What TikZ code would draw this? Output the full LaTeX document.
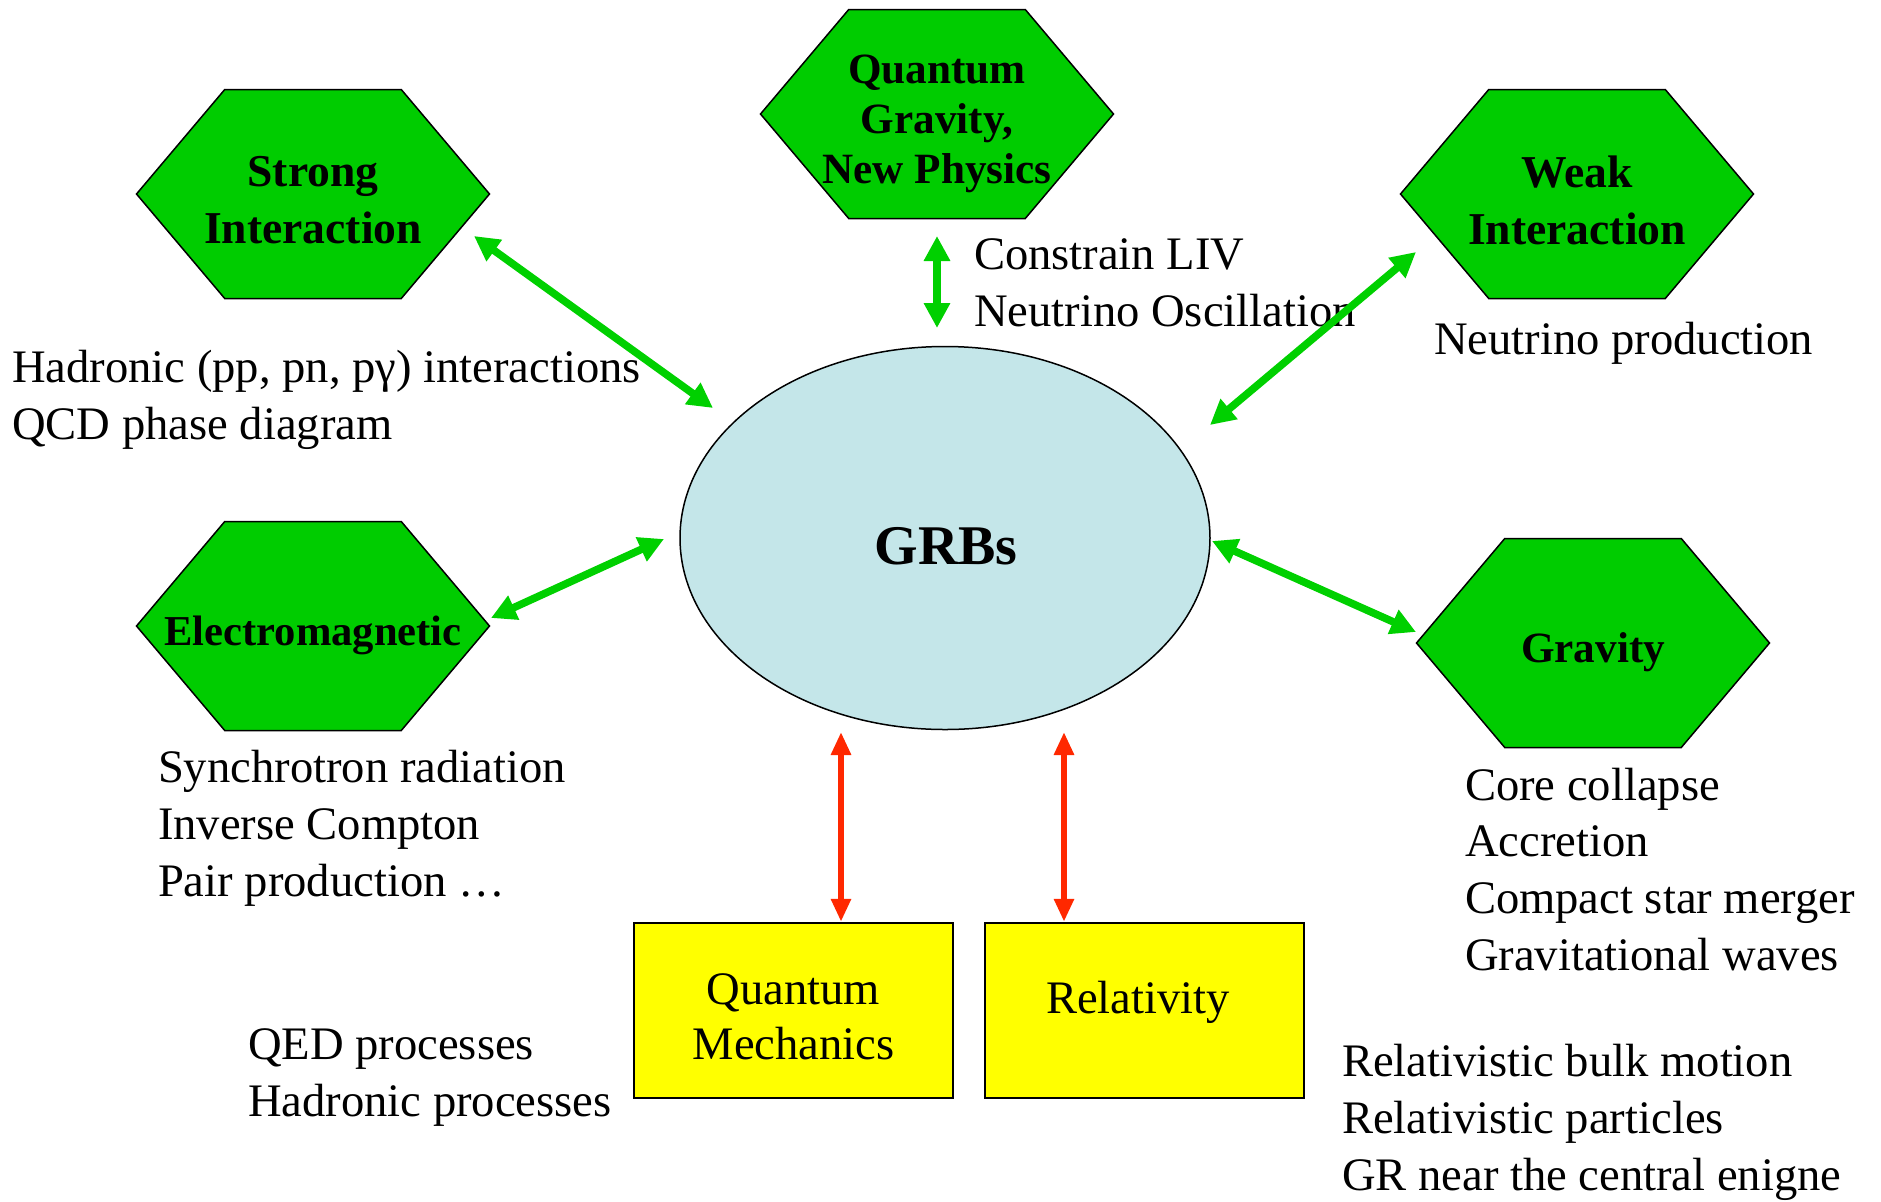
\documentclass[tikz,border=0pt]{standalone}
\usepackage{fontspec}
\setmainfont{Liberation Serif}
\usetikzlibrary{arrows.meta,calc,backgrounds,shapes.geometric}
\definecolor{hexgreen}{RGB}{0,204,0}
\definecolor{arrgreen}{RGB}{0,208,0}
\definecolor{arrred}{RGB}{255,40,0}
\definecolor{grbblue}{RGB}{196,230,233}
\definecolor{boxyellow}{RGB}{255,255,0}
\tikzset{
  hexbox/.style={draw=none, inner sep=0pt, outer sep=0pt,
    minimum width=176.5pt, minimum height=104.5pt},
  hexshape/.style={fill=hexgreen, draw=black, line width=0.75pt, line join=miter},
  hextext/.style={inner sep=0pt, align=center},
  bigfont/.style={font=\fontsize{22.8}{28.5}\selectfont\bfseries},
  midfont/.style={font=\fontsize{21.6}{25}\selectfont\bfseries},
  desc/.style={inner sep=0pt, outer sep=0pt, align=left, anchor=base west,
    font=\fontsize{23.3}{28.3}\selectfont},
  ybox/.style={rectangle, fill=boxyellow, draw=black, line width=1.2pt,
    minimum width=159.5pt, minimum height=87.5pt, inner sep=0pt},
  garrow/.style={draw=arrgreen, line width=3.8pt,
    {Triangle[length=12.5pt,width=12.5pt]}-{Triangle[length=12.5pt,width=12.5pt]}},
  rarrow/.style={draw=arrred, line width=3pt,
    {Triangle[length=11.5pt,width=9.5pt]}-{Triangle[length=11.5pt,width=9.5pt]}},
}
\begin{document}
\begin{tikzpicture}[x=0.5pt,y=-0.5pt]
\useasboundingbox (0,0) rectangle (1881,1201);

% hexagon outlines
\node[hexbox] (strong) at (313,194) {};
\node[hexbox] (qg) at (937,114) {};
\node[hexbox] (weak) at (1577,194) {};
\node[hexbox] (em) at (313,626) {};
\node[hexbox] (grav) at (1593,643) {};

\foreach \n in {strong,qg,weak,em,grav}{
  \filldraw[hexshape] (\n.west)
    -- ($(\n.north west)!0.25!(\n.north east)$)
    -- ($(\n.north west)!0.75!(\n.north east)$)
    -- (\n.east)
    -- ($(\n.south west)!0.75!(\n.south east)$)
    -- ($(\n.south west)!0.25!(\n.south east)$)
    -- cycle;
}

% hexagon texts
\node[hextext,bigfont] (strongt) at (313,200) {Strong\\Interaction};
\node[hextext,midfont] (qgt) at (937,124) {Quantum\\Gravity,\\New Physics};
\node[hextext,bigfont] (weakt) at (1577,200) {Weak\\Interaction};
\node[hextext,font=\fontsize{21.3}{25}\selectfont\bfseries] (emt) at (313,635) {Electromagnetic};
\node[hextext,midfont] (gravt) at (1593,652) {Gravity};

% central ellipse
\node[ellipse, fill=grbblue, draw=black, line width=0.75pt, inner sep=0pt,
  minimum width=265pt, minimum height=191.5pt] (grb) at (945,538) {};
\node[inner sep=0pt, font=\fontsize{28}{32}\selectfont\bfseries] (grbt) at (946,546) {GRBs};

% yellow boxes
\node[ybox] (qm) at (793.5,1010.5) {};
\node[ybox] (rel) at (1144.5,1010.5) {};
\node[inner sep=0pt, align=center, font=\fontsize{23.3}{27.5}\selectfont] (qmtext) at (793.5,1017) {Quantum\\Mechanics};
\node[inner sep=0pt, font=\fontsize{23.3}{28.3}\selectfont] (reltext) at (1138,1002) {Relativity};

% descriptions (anchored at the baseline of the last line)
\node[desc] (hadr) at (12,439) {Hadronic (pp, pn, pγ) interactions\\QCD phase diagram};
\node[desc] (liv) at (974,326) {Constrain LIV\\Neutrino Oscillation};
\node[desc] (nuprod) at (1434,354) {Neutrino production};
\node[desc] (sync) at (158,896) {Synchrotron radiation\\Inverse Compton\\Pair production \dots};
\node[desc] (core) at (1465,970) {Core collapse\\Accretion\\Compact star merger\\Gravitational waves};
\node[desc] (qed) at (248,1116) {QED processes\\Hadronic processes};
\node[desc] (relat) at (1342,1190) {Relativistic bulk motion\\Relativistic particles\\GR near the central enigne};

% green arrows
\draw[garrow] ([shift={(161,42)}]strong.center) -- ([shift={(-232,-130)}]grb.center);
\draw[garrow] ([shift={(0,122)}]qg.center) -- ([shift={(-8,-210)}]grb.center);
\draw[garrow] ([shift={(-161,58)}]weak.center) -- ([shift={(265,-113)}]grb.center);
\draw[garrow] ([shift={(178,-8)}]em.center) -- ([shift={(-281,1)}]grb.center);
\draw[garrow] ([shift={(267,3)}]grb.center) -- ([shift={(-177,-11)}]grav.center);

% red arrows
\draw[rarrow] ([shift={(-104,194)}]grb.center) -- ([shift={(47.5,0)}]qm.north);
\draw[rarrow] ([shift={(119,194)}]grb.center) -- ([shift={(-80.5,0)}]rel.north);
\end{tikzpicture}
\end{document}
